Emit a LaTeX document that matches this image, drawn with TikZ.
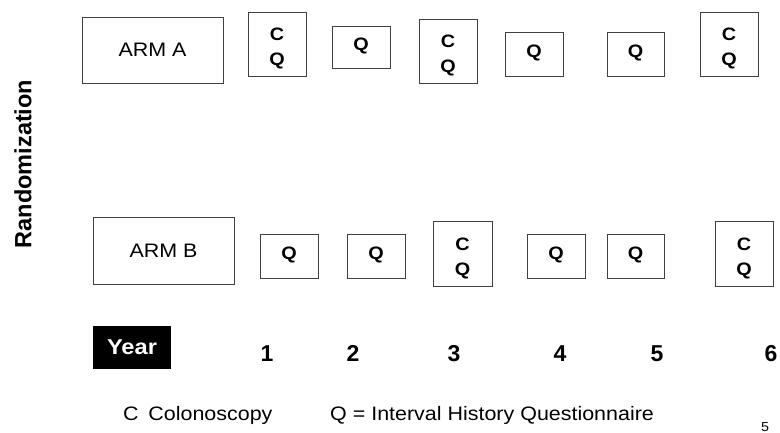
\documentclass[tikz,border=0pt]{standalone}
\usepackage{fontspec}
\setmainfont{Liberation Sans}[FakeStretch=1.1]
\newfontfamily\plainsans{Liberation Sans}
\begin{document}
\begin{tikzpicture}[x=1pt,y=-1pt,
  frame/.style={draw=black!75, line width=0.9pt, inner sep=0pt},
  armbox/.style={frame, minimum width=141pt, minimum height=66pt, font=\fontsize{19.5}{23}\selectfont},
  cqbox/.style={frame, minimum width=58pt, minimum height=64pt},
  cqtext/.style={inner sep=0pt, yshift=-4.5pt, align=center, font=\bfseries\fontsize{18}{25}\selectfont},
  qbox/.style={frame, minimum width=58pt, minimum height=44pt, text depth=6pt, font=\bfseries\fontsize{18}{21}\selectfont},
  yearnum/.style={inner sep=0pt, anchor=base, font=\plainsans\bfseries\fontsize{23}{26}\selectfont},
  legend/.style={inner sep=0pt, anchor=west, font=\fontsize{19.5}{23}\selectfont}
]
\useasboundingbox (0,0) rectangle (780,433);
% side label
\node[rotate=90, inner sep=0pt, font=\plainsans\bfseries\fontsize{23.5}{26}\selectfont] (rand) at (23,164) {Randomization};
% arm A
\node[armbox] (armA) at (152.5,50) {ARM A};
\node[cqbox] (a1) at (277,44) {};
\node[cqtext] (a1t) at (a1.center) {C\\Q};
\node[qbox, minimum height=42pt] (a2) at (361,47) {Q};
\node[cqbox] (a3) at (448,51) {};
\node[cqtext] (a3t) at (a3.center) {C\\Q};
\node[qbox] (a4) at (534,54) {Q};
\node[qbox, minimum width=57pt] (a5) at (635.5,54) {Q};
\node[cqbox] (a6) at (729,44) {};
\node[cqtext] (a6t) at (a6.center) {C\\Q};
% arm B
\node[armbox, minimum height=67pt] (armB) at (163.5,250.5) {ARM B};
\node[qbox] (b1) at (289,256) {Q};
\node[qbox] (b2) at (376,256) {Q};
\node[cqbox, minimum width=59pt, minimum height=65pt] (b3) at (462.5,253.5) {};
\node[cqtext] (b3t) at (b3.center) {C\\Q};
\node[qbox] (b4) at (556,256) {Q};
\node[qbox, minimum width=57pt] (b5) at (635.5,256) {Q};
\node[cqbox, minimum height=65pt] (b6) at (744,253.5) {};
\node[cqtext] (b6t) at (b6.center) {C\\Q};
% years
\node[fill=black, text=white, inner sep=0pt, minimum width=78pt, minimum height=43pt, font=\bfseries\fontsize{21.5}{24}\selectfont] (year) at (132,347.5) {Year};
\node[yearnum] (y1) at (267,361) {1};
\node[yearnum] (y2) at (353,361) {2};
\node[yearnum] (y3) at (454,361) {3};
\node[yearnum] (y4) at (560,361) {4};
\node[yearnum] (y5) at (657,361) {5};
\node[yearnum] (y6) at (771,361) {6};
% legend
\node[legend] (legC) at (123,415) {C\hspace{0.5em}Colonoscopy};
\node[legend] (legQ) at (330,415) {Q = Interval History Questionnaire};
\node[inner sep=0pt, font=\fontsize{13}{15}\selectfont] (page) at (765,427) {5};
\end{tikzpicture}
\end{document}
